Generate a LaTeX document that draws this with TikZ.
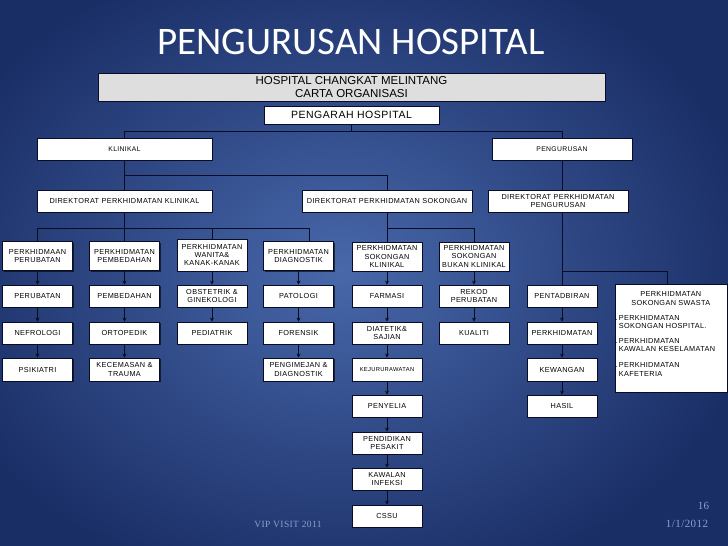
\documentclass[tikz,border=0pt]{standalone}
\usepackage{fontspec}
\setmainfont{Liberation Sans}
\newfontfamily\boxfont{Liberation Sans}[LetterSpace=5]
\newfontfamily\titlefont{Carlito}
\newfontfamily\footfont{Liberation Serif}[LetterSpace=4]
\usetikzlibrary{shadows,arrows.meta,calc}
\definecolor{bgmid}{RGB}{72,104,170}
\definecolor{bgedge}{RGB}{26,46,102}
\definecolor{ln}{RGB}{8,12,36}
\definecolor{hdr}{RGB}{222,222,222}
\definecolor{foot}{RGB}{140,158,205}
\begin{document}
\begin{tikzpicture}[x=1pt,y=-1pt,
  box/.style={draw=ln, fill=white, line width=0.8pt, inner sep=0pt, align=center,
    minimum width=70pt, minimum height=22pt,
    font=\boxfont\fontsize{7.3}{8.4}\selectfont,
    drop shadow={shadow xshift=1pt, shadow yshift=-1pt, fill=black, opacity=0.6}},
  tall/.style={minimum height=29pt},
  tl/.style={draw=ln, line width=0.8pt},
  arr/.style={draw=ln, line width=0.8pt, -{Stealth[length=4pt,width=4pt]}},
  foottext/.style={text=foot, font=\footfont\fontsize{9.5}{11}\selectfont, inner sep=0pt}]
% background
\useasboundingbox (0,0) rectangle (728,546);
\fill[bgedge] (0,0) rectangle (728,546);
\shade[inner color=bgmid, outer color=bgedge] (-80,-60) rectangle (760,600);
% title
\node[text=white, font=\titlefont\fontsize{39}{42}\selectfont] (title) at (351,41.5) {PENGURUSAN HOSPITAL};
% header boxes
\node[box, fill=hdr, minimum width=507pt, minimum height=28pt, font=\fontsize{11.5}{13.5}\selectfont] (hdr) at (351.5,87) {HOSPITAL CHANGKAT MELINTANG\\CARTA ORGANISASI};
\node[box, minimum width=175pt, minimum height=18pt, font=\boxfont\fontsize{10.5}{12}\selectfont] (pg) at (351.5,115) {PENGARAH HOSPITAL};
\node[box, minimum width=175pt, font=\boxfont\fontsize{6.8}{8}\selectfont] (kl) at (124.5,149) {KLINIKAL};
\node[box, minimum width=140pt, font=\boxfont\fontsize{6.8}{8}\selectfont] (pu) at (562,149) {PENGURUSAN};
\node[box, minimum width=175pt] (dk) at (124.5,201) {DIREKTORAT PERKHIDMATAN KLINIKAL};
\node[box, minimum width=170pt] (ds) at (387,201) {DIREKTORAT PERKHIDMATAN SOKONGAN};
\node[box, minimum width=140pt] (dp) at (558,201) {DIREKTORAT PERKHIDMATAN\\PENGURUSAN};
% column A
\node[box, tall] (a1) at (37.5,256) {PERKHIDMAAN\\PERUBATAN};
\node[box] (a2) at (37.5,296) {PERUBATAN};
\node[box] (a3) at (37.5,333) {NEFROLOGI};
\node[box, minimum height=23pt] (a4) at (37.5,369.5) {PSIKIATRI};
% column B
\node[box, tall] (b1) at (124.5,256) {PERKHIDMATAN\\PEMBEDAHAN};
\node[box] (b2) at (124.5,296) {PEMBEDAHAN};
\node[box] (b3) at (124.5,333) {ORTOPEDIK};
\node[box, minimum height=23pt] (b4) at (124.5,369.5) {KECEMASAN \&\\TRAUMA};
% column C
\node[box, minimum height=32pt] (c1) at (212,255) {PERKHIDMATAN\\WANITA\&\\KANAK-KANAK};
\node[box] (c2) at (212,296) {OBSTETRIK \&\\GINEKOLOGI};
\node[box] (c3) at (212,333) {PEDIATRIK};
% column D
\node[box, tall] (d1) at (298.5,256) {PERKHIDMATAN\\DIAGNOSTIK};
\node[box] (d2) at (298.5,296) {PATOLOGI};
\node[box] (d3) at (298.5,333) {FORENSIK};
\node[box, minimum height=23pt] (d4) at (298.5,369.5) {PENGIMEJAN \&\\DIAGNOSTIK};
% column E
\node[box, tall] (e1) at (387,256.5) {PERKHIDMATAN\\SOKONGAN\\KLINIKAL};
\node[box] (e2) at (387,296) {FARMASI};
\node[box] (e3) at (387,333) {DIATETIK\&\\SAJIAN};
\node[box, minimum height=23pt, font=\boxfont\fontsize{5.8}{7}\selectfont] (e4) at (387,369.5) {KEJURURAWATAN};
\node[box] (e5) at (387,406) {PENYELIA};
\node[box] (e6) at (387,443) {PENDIDIKAN\\PESAKIT};
\node[box] (e7) at (387,479) {KAWALAN\\INFEKSI};
\node[box] (e8) at (387,516) {CSSU};
% column F
\node[box, tall] (f1) at (474,256.5) {PERKHIDMATAN\\SOKONGAN\\BUKAN KLINIKAL};
\node[box] (f2) at (474,296) {REKOD\\PERUBATAN};
\node[box] (f3) at (474,333) {KUALITI};
% column G
\node[box] (g1) at (562,296) {PENTADBIRAN};
\node[box] (g2) at (562,333) {PERKHIDMATAN};
\node[box, minimum height=23pt] (g3) at (562,369.5) {KEWANGAN};
\node[box] (g4) at (562,406) {HASIL};
% swasta box
\node[box, minimum width=112pt, minimum height=108pt] (sw) at (671,338) {};
\node[anchor=north west, inner sep=0pt, text width=104pt, align=left, font=\boxfont\fontsize{7.3}{8.7}\selectfont] (swt) at ($(sw.north west)+(4,7.5)$)
 {\makebox[104pt]{PERKHIDMATAN}\\\makebox[104pt]{SOKONGAN SWASTA}\\[6.5pt]
  \leavevmode\llap{.\,}PERKHIDMATAN\\SOKONGAN HOSPITAL.\\[5.5pt]
  \leavevmode\llap{.\,}PERKHIDMATAN\\KAWALAN KESELAMATAN\\[7pt]
  \leavevmode\llap{.\,}PERKHIDMATAN\\KAFETERIA};
% junction coordinates
\coordinate (h1) at (0,131);
\coordinate (h2) at (0,175);
\coordinate (h3) at (0,228);
\coordinate (h4) at (0,271);
\coordinate (dd) at (309,228);
\coordinate (swd) at (667,271);
% tree lines
\draw[tl] (pg.south) -- (pg.south |- h1);
\draw[tl] (kl.north) -- (kl.north |- h1) -| (pu.north);
\draw[tl] (kl.south) -- (dk.north);
\draw[tl] (kl.south |- h2) -| (ds.north);
\draw[tl] (pu.south) -- (pu.south |- dp.north);
\draw[tl] (dk.south) -- (dk.south |- h3);
\draw[tl] (a1.north) -- (a1.north |- h3) -- (dd) -- (dd |- d1.north);
\draw[tl] (b1.north) -- (b1.north |- h3);
\draw[tl] (c1.north) -- (c1.north |- h3);
\draw[tl] (ds.south) -- (e1.north);
\draw[tl] (ds.south |- h3) -| (f1.north);
\draw[tl] (g1.north |- dp.south) -- (g1.north);
\draw[tl] (g1.north |- h4) -- (swd) -- (swd |- sw.north);
% column arrows
\foreach \c/\n in {a/4,b/4,c/3,d/4,e/8,f/3,g/4}{
  \foreach \i [evaluate=\i as \j using int(\i+1)] in {1,...,\n}{
    \ifnum\i<\n \draw[arr] (\c\i.south) -- (\c\j.north);\fi
  }
}
% footer
\node[foottext] (vip) at (288,524) {VIP VISIT 2011};
\node[foottext, font=\footfont\fontsize{11}{12}\selectfont] (pgn) at (703.5,506) {16};
\node[foottext, font=\footfont\fontsize{11}{12}\selectfont] (dt) at (687,524) {1/1/2012};
\end{tikzpicture}
\end{document}
